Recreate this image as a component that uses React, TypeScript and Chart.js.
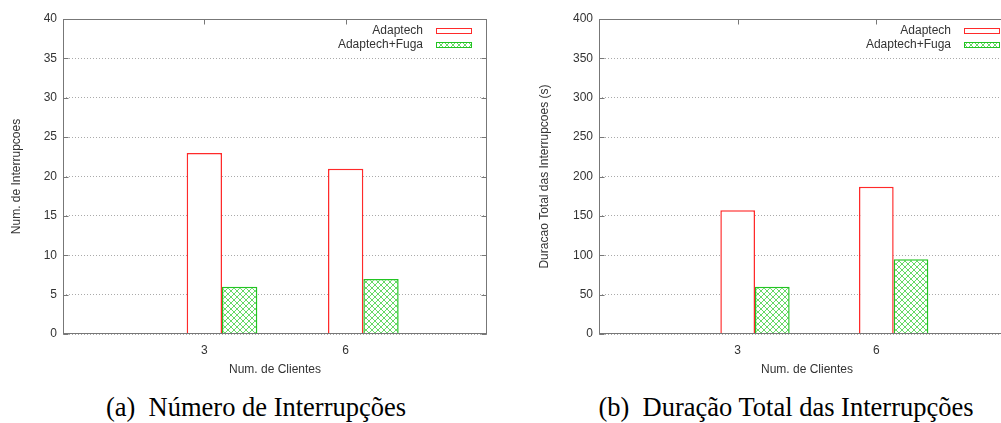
import React, { useEffect, useRef } from "react";
import { Chart, registerables } from "chart.js";

Chart.register(...registerables);

// ---- data ----
const categories = ["3", "6"];
const seriesNames = ["Adaptech", "Adaptech+Fuga"];
const countAdaptech = [23, 21];
const countFuga = [6, 7];
const durationAdaptech = [157, 187];
const durationFuga = [60, 95];
const countAxis = { max: 40, step: 5, title: "Num. de Interrupcoes" };
const durationAxis = { max: 400, step: 50, title: "Duracao Total das Interrupcoes (s)" };
const xTitle = "Num. de Clientes";
const captions = ["(a)\u2002Número de Interrupções", "(b)\u2002Duração Total das Interrupções"];

const RED = "#ff2a2a";
const GREEN = "#22c422";
const FONT = "'Liberation Sans', Arial, sans-serif";
const TEXT = "#333333";
const FRAME = "#777777";

function makeHatch(): CanvasPattern | string {
  const c = document.createElement("canvas");
  c.width = 6;
  c.height = 6;
  const g = c.getContext("2d");
  if (!g) return GREEN;
  g.fillStyle = "#ffffff";
  g.fillRect(0, 0, 6, 6);
  g.strokeStyle = "rgba(0,192,0,0.6)";
  g.lineWidth = 1;
  g.beginPath();
  g.moveTo(-1, -1);
  g.lineTo(7, 7);
  g.moveTo(7, -1);
  g.lineTo(-1, 7);
  g.stroke();
  const p = g.createPattern(c, "repeat");
  return p || GREEN;
}

const framePlugin = {
  id: "gnuFrame",
  beforeDatasetsDraw(chart: any) {
    const { ctx, chartArea } = chart;
    const l = Math.round(chartArea.left) + 0.5;
    const r = Math.round(chartArea.right) - 0.5;
    const t = Math.round(chartArea.top) + 0.5;
    const b = Math.round(chartArea.bottom) - 0.5;
    const len = 5;
    ctx.save();
    ctx.strokeStyle = FRAME;
    ctx.lineWidth = 1;
    ctx.beginPath();
    const ys = chart.scales.y;
    ys.ticks.forEach((_: any, i: number) => {
      const py = Math.round(ys.getPixelForTick(i)) + 0.5;
      ctx.moveTo(l, py);
      ctx.lineTo(l + len, py);
      ctx.moveTo(r, py);
      ctx.lineTo(r - len, py);
    });
    const xs = chart.scales.x;
    xs.ticks.forEach((_: any, i: number) => {
      const px = Math.round(xs.getPixelForTick(i)) + 0.5;
      ctx.moveTo(px, b);
      ctx.lineTo(px, b - len);
      ctx.moveTo(px, t);
      ctx.lineTo(px, t + len);
    });
    ctx.stroke();
    ctx.restore();
  },
  afterDatasetsDraw(chart: any) {
    const { ctx, chartArea } = chart;
    const l = Math.round(chartArea.left) + 0.5;
    const r = Math.round(chartArea.right) - 0.5;
    const t = Math.round(chartArea.top) + 0.5;
    const b = Math.round(chartArea.bottom) - 0.5;
    ctx.save();
    ctx.strokeStyle = FRAME;
    ctx.lineWidth = 1;
    ctx.strokeRect(l, t, r - l, b - t);
    ctx.restore();
  },
  afterDraw(chart: any) {
    const { ctx, chartArea } = chart;
    const right = Math.round(chartArea.right);
    const top = Math.round(chartArea.top);
    ctx.save();
    ctx.font = `12px ${FONT}`;
    ctx.textAlign = "right";
    ctx.textBaseline = "middle";
    chart.data.datasets.forEach((ds: any, i: number) => {
      const cy = top + 12 + i * 13.5;
      ctx.fillStyle = TEXT;
      ctx.fillText(ds.label, right - 64, cy);
      const bx = right - 51;
      const by = Math.round(cy - 3);
      ctx.fillStyle = ds.backgroundColor;
      ctx.fillRect(bx, by, 36, 6);
      ctx.strokeStyle = ds.borderColor;
      ctx.lineWidth = 1;
      ctx.strokeRect(bx + 0.5, by + 0.5, 35, 5);
    });
    ctx.restore();
  },
};

function buildConfig(
  a: number[],
  b: number[],
  axis: { max: number; step: number; title: string },
  titlePad: number
): any {
  const hatch = makeHatch();
  const toPoints = (vals: number[]) => vals.map((v, i) => ({ x: i + 1 + 0.125, y: v }));
  return {
    type: "bar",
    data: {
      datasets: [
        {
          label: seriesNames[0],
          data: toPoints(a),
          backgroundColor: "#ffffff",
          borderColor: RED,
          borderWidth: 1.5,
          borderSkipped: "start",
          inflateAmount: 0,
        },
        {
          label: seriesNames[1],
          data: toPoints(b),
          backgroundColor: hatch,
          borderColor: GREEN,
          borderWidth: 1.5,
          borderSkipped: "start",
          inflateAmount: 0,
        },
      ],
    },
    options: {
      animation: false,
      responsive: false,
      devicePixelRatio: 1,
      categoryPercentage: 0.5,
      barPercentage: 1,
      layout: { padding: { left: 0, right: 13, top: 19, bottom: 0 } },
      plugins: { legend: { display: false }, tooltip: { enabled: false } },
      scales: {
        x: {
          type: "linear",
          min: 0,
          max: 3,
          offset: false,
          grid: { display: false, offset: false, drawTicks: false },
          border: { display: false },
          afterBuildTicks: (scale: any) => {
            scale.ticks = categories.map((_, i) => ({ value: i + 1 }));
          },
          afterFit: (scale: any) => {
            scale.height = 46;
          },
          ticks: {
            autoSkip: false,
            maxRotation: 0,
            padding: 9,
            color: TEXT,
            font: { family: FONT, size: 12 },
            callback: (v: number) => categories[Math.round(v) - 1] ?? "",
          },
          title: {
            display: true,
            text: xTitle,
            color: TEXT,
            font: { family: FONT, size: 12 },
            padding: { top: 0, bottom: 3 },
          },
        },
        y: {
          min: 0,
          max: axis.max,
          afterFit: (scale: any) => {
            scale.width = 63;
          },
          grid: {
            color: "#aaaaaa",
            lineWidth: 1,
            drawTicks: false,
          },
          border: { display: false, dash: [1, 2] },
          ticks: {
            stepSize: axis.step,
            padding: 6,
            color: TEXT,
            font: { family: FONT, size: 12 },
          },
          title: {
            display: true,
            text: axis.title,
            color: TEXT,
            font: { family: FONT, size: 12 },
            padding: { top: titlePad, bottom: 0 },
          },
        },
      },
    },
    plugins: [framePlugin],
  };
}

function BarChart(props: {
  a: number[];
  b: number[];
  axis: { max: number; step: number; title: string };
  titlePad: number;
  left: number;
  width: number;
}) {
  const ref = useRef<HTMLCanvasElement | null>(null);
  useEffect(() => {
    if (!ref.current) return;
    const chart = new Chart(ref.current, buildConfig(props.a, props.b, props.axis, props.titlePad));
    return () => chart.destroy();
  }, []);
  return (
    <canvas
      ref={ref}
      width={props.width}
      height={380}
      style={{ position: "absolute", left: props.left, top: 0, width: props.width, height: 380 }}
    />
  );
}

const captionStyle: React.CSSProperties = {
  position: "absolute",
  top: 394,
  transform: "translateX(-50%)",
  whiteSpace: "nowrap",
  fontFamily: "'Liberation Serif', 'Times New Roman', serif",
  fontSize: 26.5,
  lineHeight: "26.5px",
  color: "#000",
};

export default function App() {
  return (
    <div
      style={{
        position: "fixed",
        left: 0,
        top: 0,
        width: 1001,
        height: 423,
        overflow: "hidden",
        background: "#ffffff",
      }}
    >
      <BarChart a={countAdaptech} b={countFuga} axis={countAxis} titlePad={9.4} left={0} width={500} />
      <BarChart a={durationAdaptech} b={durationFuga} axis={durationAxis} titlePad={1.4} left={536} width={492} />
      <div style={{ ...captionStyle, left: 256 }}>{captions[0]}</div>
      <div style={{ ...captionStyle, left: 786 }}>{captions[1]}</div>
    </div>
  );
}
